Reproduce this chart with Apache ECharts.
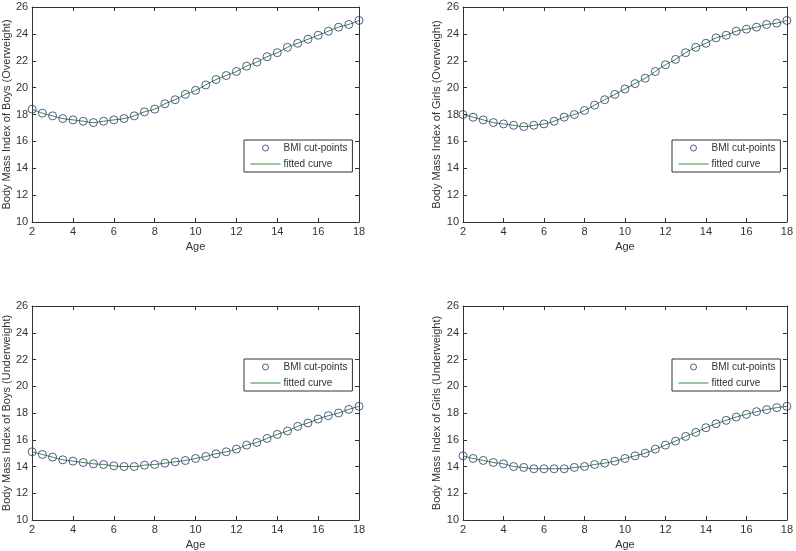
<!DOCTYPE html>
<html>
<head>
<meta charset="utf-8">
<script src="https://cdn.jsdelivr.net/npm/echarts@6/dist/echarts.min.js"></script>
<style>
  html, body { margin: 0; padding: 0; background: #fff; }
  #bmiChart { width: 796px; height: 551px; }
</style>
</head>
<body>
<div id="bmiChart"></div>
<script>
// ages 2..18, step 0.5
var ages = [2, 2.5, 3, 3.5, 4, 4.5, 5, 5.5, 6, 6.5, 7, 7.5, 8, 8.5, 9, 9.5, 10,
  10.5, 11, 11.5, 12, 12.5, 13, 13.5, 14, 14.5, 15, 15.5, 16, 16.5, 17, 17.5, 18]
var boysOver = [18.4, 18.1, 17.9, 17.7, 17.6, 17.5, 17.4, 17.5, 17.6, 17.7, 17.9, 18.2, 18.4, 18.8, 19.1, 19.5, 19.8,
  20.2, 20.6, 20.9, 21.2, 21.6, 21.9, 22.3, 22.6, 23.0, 23.3, 23.6, 23.9, 24.2, 24.5, 24.7, 25.0]
var girlsOver = [18.0, 17.8, 17.6, 17.4, 17.3, 17.2, 17.1, 17.2, 17.3, 17.5, 17.8, 18.0, 18.3, 18.7, 19.1, 19.5, 19.9,
  20.3, 20.7, 21.2, 21.7, 22.1, 22.6, 23.0, 23.3, 23.7, 23.9, 24.2, 24.35, 24.5, 24.7, 24.8, 25.0]
var boysUnder = [15.1, 14.9, 14.7, 14.5, 14.4, 14.3, 14.2, 14.15, 14.05, 14.0, 14.0, 14.1, 14.15, 14.25, 14.35, 14.45, 14.6,
  14.75, 14.95, 15.1, 15.3, 15.6, 15.8, 16.1, 16.4, 16.65, 17.0, 17.25, 17.55, 17.8, 18.0, 18.27, 18.5]
var girlsUnder = [14.8, 14.6, 14.45, 14.3, 14.2, 14.0, 13.93, 13.83, 13.83, 13.83, 13.83, 13.93, 14.0, 14.15, 14.25, 14.4, 14.6,
  14.8, 15.0, 15.3, 15.6, 15.9, 16.25, 16.55, 16.9, 17.2, 17.45, 17.7, 17.9, 18.1, 18.25, 18.4, 18.5]
var yNames = [
  'Body Mass Index of Boys (Overweight)',
  'Body Mass Index of Girls (Overweight)',
  'Body Mass Index of Boys (Underweight)',
  'Body Mass Index of Girls (Underweight)'
]
var panelData = [boysOver, girlsOver, boysUnder, girlsUnder]

var axisColor = '#333'
var textColor = '#333'
var markColor = '#27346e'
var curveColor = '#2f8a3c'
var font = 'Liberation Sans, Arial, sans-serif'
// panel positions
var grids = [
  { left: 32, top: 7, width: 327, height: 215 },
  { left: 463, top: 7, width: 325, height: 215 },
  { left: 32, top: 306, width: 327, height: 216 },
  { left: 463, top: 306, width: 325, height: 216 }
]
var legendPos = [
  { left: 244, top: 140 },
  { left: 672, top: 140 },
  { left: 244, top: 359 },
  { left: 672, top: 359 }
]

function pairs(ys) {
  return ages.map(function(a, i) { return [a, ys[i]] })
}

var option = {
  backgroundColor: '#fff',
  animation: false,
  textStyle: { fontFamily: font, color: textColor },
  grid: [], xAxis: [], yAxis: [], series: [], legend: []
}

grids.forEach(function(g, k) {
  option.grid.push({ left: g.left, top: g.top, width: g.width, height: g.height })
  var lineStyle = { color: axisColor, width: 1 }
  var tick = { show: true, inside: true, length: 4, lineStyle: lineStyle }
  // bottom + top x axes
  option.xAxis.push({
    gridIndex: k, type: 'value', min: 2, max: 18, interval: 2,
    name: 'Age', nameLocation: 'middle', nameGap: 19,
    nameTextStyle: { fontSize: 11, color: textColor, fontFamily: font },
    axisLine: { show: true, onZero: false, lineStyle: lineStyle },
    axisTick: tick,
    axisLabel: { fontSize: 11, color: textColor, margin: 4, fontFamily: font },
    splitLine: { show: false }
  })
  option.xAxis.push({
    gridIndex: k, type: 'value', min: 2, max: 18, interval: 2, position: 'top',
    axisLine: { show: true, onZero: false, lineStyle: lineStyle },
    axisTick: tick, axisLabel: { show: false }, splitLine: { show: false }
  })
  // left + right y axes
  option.yAxis.push({
    gridIndex: k, type: 'value', min: 10, max: 26, interval: 2,
    name: yNames[k], nameLocation: 'middle', nameGap: 19, nameRotate: 90,
    nameTextStyle: { fontSize: 11, color: textColor, fontFamily: font },
    axisLine: { show: true, onZero: false, lineStyle: lineStyle },
    axisTick: tick,
    axisLabel: { fontSize: 11, color: textColor, margin: 4, fontFamily: font },
    splitLine: { show: false }
  })
  option.yAxis.push({
    gridIndex: k, type: 'value', min: 10, max: 26, interval: 2, position: 'right',
    axisLine: { show: true, onZero: false, lineStyle: lineStyle },
    axisTick: tick, axisLabel: { show: false }, splitLine: { show: false }
  })

  var data = pairs(panelData[k])
  option.series.push({
    name: 'fitted curve', type: 'line', xAxisIndex: 2 * k, yAxisIndex: 2 * k,
    data: data, smooth: true, symbol: 'none',
    lineStyle: { color: curveColor, width: 1 }, itemStyle: { color: curveColor }, z: 2
  })
  option.series.push({
    name: 'BMI cut-points', type: 'scatter', xAxisIndex: 2 * k, yAxisIndex: 2 * k,
    data: data, symbol: 'circle', symbolSize: 8,
    itemStyle: { color: 'rgba(0,0,0,0)', borderColor: markColor, borderWidth: 1 }, z: 3
  })

  option.legend.push({
    orient: 'vertical', left: legendPos[k].left, top: legendPos[k].top,
    data: [
      { name: 'BMI cut-points', itemStyle: { color: 'rgba(0,0,0,0)', borderColor: markColor, borderWidth: 1 } },
      { name: 'fitted curve', itemStyle: { opacity: 0 }, lineStyle: { color: curveColor, width: 1 } }
    ],
    borderColor: axisColor, borderWidth: 1, borderRadius: 0,
    padding: [3, 5, 3, 6], itemWidth: 30, itemHeight: 6, itemGap: 6,
    selectedMode: false,
    textStyle: { fontSize: 10, color: textColor, fontFamily: font, padding: [0, 0, 0, -2] }
  })
})

var bmiChart = echarts.init(document.getElementById('bmiChart'))
bmiChart.setOption(option)
</script>
</body>
</html>
